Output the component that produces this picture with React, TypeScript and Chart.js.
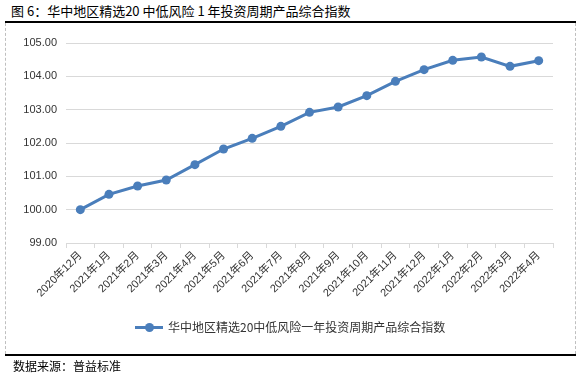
import React, { useEffect, useRef } from "react";
import { Chart, registerables } from "chart.js";

Chart.register(...registerables);

const titleText = "图 6：华中地区精选20 中低风险 1 年投资周期产品综合指数";
const seriesName = "华中地区精选20中低风险一年投资周期产品综合指数";
const sourceText = "数据来源：普益标准";

const categories = [
  "2020年12月", "2021年1月", "2021年2月", "2021年3月", "2021年4月", "2021年5月",
  "2021年6月", "2021年7月", "2021年8月", "2021年9月", "2021年10月", "2021年11月",
  "2021年12月", "2022年1月", "2022年2月", "2022年3月", "2022年4月",
];

const indexValues = [
  100.0, 100.46, 100.71, 100.89, 101.35, 101.82, 102.14, 102.5, 102.92, 103.08,
  103.42, 103.85, 104.2, 104.48, 104.58, 104.3, 104.47,
];

const yMin = 99;
const yMax = 105;
const yStep = 1;

const lineColor = "#4a7ebb";
const gridColor = "#d9d9d9";
const cjk = "'Noto Sans CJK SC', sans-serif";

export default function App() {
  const canvasRef = useRef<HTMLCanvasElement | null>(null);

  useEffect(() => {
    const canvas = canvasRef.current;
    if (!canvas) return;
    const chart = new Chart(canvas, {
      type: "line",
      data: {
        labels: categories,
        datasets: [
          {
            label: seriesName,
            data: indexValues,
            borderColor: lineColor,
            backgroundColor: lineColor,
            borderWidth: 3,
            pointRadius: 4.5,
            pointBorderWidth: 0,
            pointBackgroundColor: lineColor,
            tension: 0,
          },
        ],
      },
      options: {
        responsive: false,
        animation: false,
        devicePixelRatio: 1,
        layout: { padding: { top: 43, right: 27, bottom: 51, left: 0 } },
        plugins: {
          legend: { display: false },
          tooltip: { enabled: false },
          title: { display: false },
        },
        scales: {
          x: {
            offset: true,
            grid: {
              display: true,
              drawOnChartArea: false,
              drawTicks: true,
              tickLength: 5,
              offset: true,
              color: gridColor,
            },
            border: { display: true, color: gridColor, width: 1 },
            ticks: {
              autoSkip: false,
              minRotation: 45,
              maxRotation: 45,
              padding: 1,
              color: "#333",
              font: { family: "'Liberation Sans', 'Noto Sans CJK SC', sans-serif", size: 11 },
            },
            afterFit: (scale: any) => {
              scale.height = 80;
            },
          },
          y: {
            min: yMin,
            max: yMax,
            grid: { color: gridColor, lineWidth: 1, drawTicks: false },
            border: { display: false },
            ticks: {
              stepSize: yStep,
              padding: 9,
              color: "#333",
              font: { family: "'Liberation Sans', sans-serif", size: 11 },
              callback: (v: any) => Number(v).toFixed(2),
            },
            afterFit: (scale: any) => {
              scale.width = 66;
            },
          },
        },
      },
    });
    return () => chart.destroy();
  }, []);

  return (
    <div
      style={{
        position: "fixed",
        left: 0,
        top: 0,
        width: 580,
        height: 374,
        background: "#fff",
        fontFamily: cjk,
        overflow: "hidden",
      }}
    >
      <div
        style={{
          position: "absolute",
          left: 11,
          top: 2,
          fontSize: 13,
          lineHeight: "18px",
          color: "#000",
          whiteSpace: "nowrap",
        }}
      >
        {titleText}
      </div>
      <div style={{ position: "absolute", left: 5, top: 21, width: 571, height: 2, background: "#000" }} />
      <div style={{ position: "absolute", left: 5, top: 23, height: 331, borderLeft: "1px dashed #bfbfbf" }} />
      <div style={{ position: "absolute", left: 575, top: 23, height: 331, borderLeft: "1px dashed #bfbfbf" }} />
      <canvas
        ref={canvasRef}
        width={580}
        height={374}
        style={{ position: "absolute", left: 0, top: 0, width: 580, height: 374 }}
      />
      <div
        style={{
          position: "absolute",
          left: 135,
          top: 318,
          height: 18,
          display: "flex",
          alignItems: "center",
          whiteSpace: "nowrap",
        }}
      >
        <div style={{ position: "relative", width: 28, height: 18, marginRight: 5 }}>
          <div style={{ position: "absolute", left: 0, top: 7.5, width: 28, height: 3, background: lineColor }} />
          <div
            style={{
              position: "absolute",
              left: 9.5,
              top: 4.5,
              width: 9,
              height: 9,
              borderRadius: "50%",
              background: lineColor,
            }}
          />
        </div>
        <span style={{ fontSize: 12, color: "#333", lineHeight: "18px" }}>{seriesName}</span>
      </div>
      <div style={{ position: "absolute", left: 5, top: 354, width: 571, height: 2, background: "#000" }} />
      <div
        style={{
          position: "absolute",
          left: 13,
          top: 357,
          fontSize: 12,
          lineHeight: "18px",
          color: "#000",
          whiteSpace: "nowrap",
        }}
      >
        {sourceText}
      </div>
    </div>
  );
}
